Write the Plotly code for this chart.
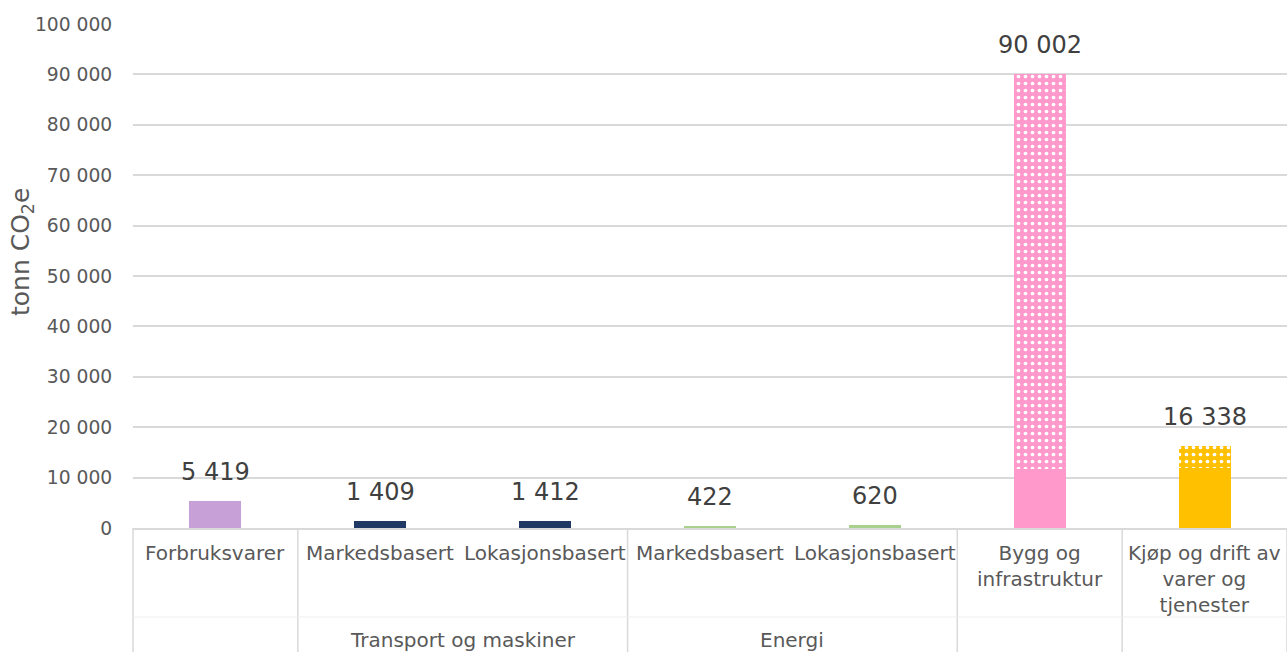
import plotly.graph_objects as go

# Emission categories (inner labels) and their parent groups
labels = ["Forbruksvarer", "Markedsbasert", "Lokasjonsbasert", "Markedsbasert",
          "Lokasjonsbasert", "Bygg og<br>infrastruktur", "Kjøp og drift av<br>varer og<br>tjenester"]
groups = ["", "Transport og maskiner", "Transport og maskiner", "Energi", "Energi", "", ""]

# Totals in tonn CO2e
totals = [5419, 1409, 1412, 422, 620, 90002, 16338]
# Part of the total drawn solid; remainder drawn with a pattern
solid = [5419, 1409, 1412, 422, 620, 11650, 12000]
colors = ["#C8A0D8", "#1F3864", "#1F3864", "#A9D18E", "#A9D18E", "#FF99CC", "#FFC000"]

y_ticks = list(range(0, 100001, 10000))

x = list(range(len(labels)))
patterned = [t - s for t, s in zip(totals, solid)]

FONT = "Verdana, DejaVu Sans, sans-serif"
GRID = "#D9D9D9"
TXT = "#595959"
PLOT_H = 504  # plot area height in px

fig = go.Figure()
fig.add_trace(go.Bar(
    x=x, y=solid, width=0.315, marker=dict(color=colors, line=dict(width=0)),
    hoverinfo="skip", showlegend=False,
))
# Patterned upper segments, one trace per bar so each gets its own pattern colours
for xi, v, c in zip(x, patterned, colors):
    if v <= 0:
        continue
    fig.add_trace(go.Bar(
        x=[xi], y=[v], width=0.315,
        marker=dict(
            color=c, line=dict(width=0),
            pattern=dict(shape=".", fgcolor="white", bgcolor=c,
                         size=7, solidity=0.22, fillmode="replace"),
        ),
        hoverinfo="skip", showlegend=False,
    ))

# Value labels above each bar
for xi, t in zip(x, totals):
    fig.add_annotation(
        x=xi, y=t, xref="x", yref="y", yanchor="bottom", yshift=13,
        text=f"{t:,}".replace(",", " "), showarrow=False,
        font=dict(family=FONT, size=24, color="#404040"),
    )

# Category labels under the axis
for xi, lab in zip(x, labels):
    fig.add_annotation(
        x=xi, y=0, xref="x", yref="paper", yanchor="top", yshift=-11,
        text=lab, showarrow=False, align="center",
        font=dict(family=FONT, size=20, color=TXT),
    )

# Group labels, one per consecutive run of the same group
i = 0
while i < len(groups):
    j = i
    while j + 1 < len(groups) and groups[j + 1] == groups[i]:
        j += 1
    if groups[i]:
        fig.add_annotation(
            x=(i + j) / 2, y=0, xref="x", yref="paper", yanchor="top", yshift=-98,
            text=groups[i], showarrow=False,
            font=dict(family=FONT, size=20, color=TXT),
        )
    i = j + 1

# Divider lines between category groups
n = len(labels)
bottom = -124 / PLOT_H
bounds = [0]
for k in range(1, n):
    if not groups[k] or groups[k] != groups[k - 1]:
        bounds.append(k)
bounds.append(n)
for b in bounds:
    fig.add_shape(type="line", xref="paper", yref="paper", x0=b / n, x1=b / n,
                  y0=0, y1=bottom, line=dict(color=GRID, width=1.5))
fig.add_shape(type="line", xref="paper", yref="paper", x0=0, x1=1,
              y0=-89 / PLOT_H, y1=-89 / PLOT_H, line=dict(color="#EFEFEF", width=1))

# Y-axis title
fig.add_annotation(
    text="tonn CO<sub>2</sub>e", xref="paper", yref="paper",
    x=0, xshift=-111, y=276 / PLOT_H, xanchor="center", yanchor="middle",
    textangle=-90, showarrow=False,
    font=dict(family=FONT, size=25, color=TXT),
)

fig.update_layout(
    width=1287, height=652,
    margin=dict(l=133, r=0, t=24, b=124),
    barmode="stack",
    plot_bgcolor="white", paper_bgcolor="white",
    separators=", ",
    font=dict(family=FONT, color=TXT),
    xaxis=dict(range=[-0.5, n - 0.5], showticklabels=False, showgrid=False,
               zeroline=False, showline=True, linecolor=GRID, linewidth=1.5, ticks=""),
    yaxis=dict(range=[0, 100000], tickvals=y_ticks, tickformat=",d",
               showgrid=True, gridcolor=GRID, gridwidth=1.5, zeroline=False,
               ticks="outside", ticklen=16, tickcolor="rgba(0,0,0,0)",
               tickfont=dict(family=FONT, size=18.7, color=TXT)),
)

fig.write_html("out.html")
